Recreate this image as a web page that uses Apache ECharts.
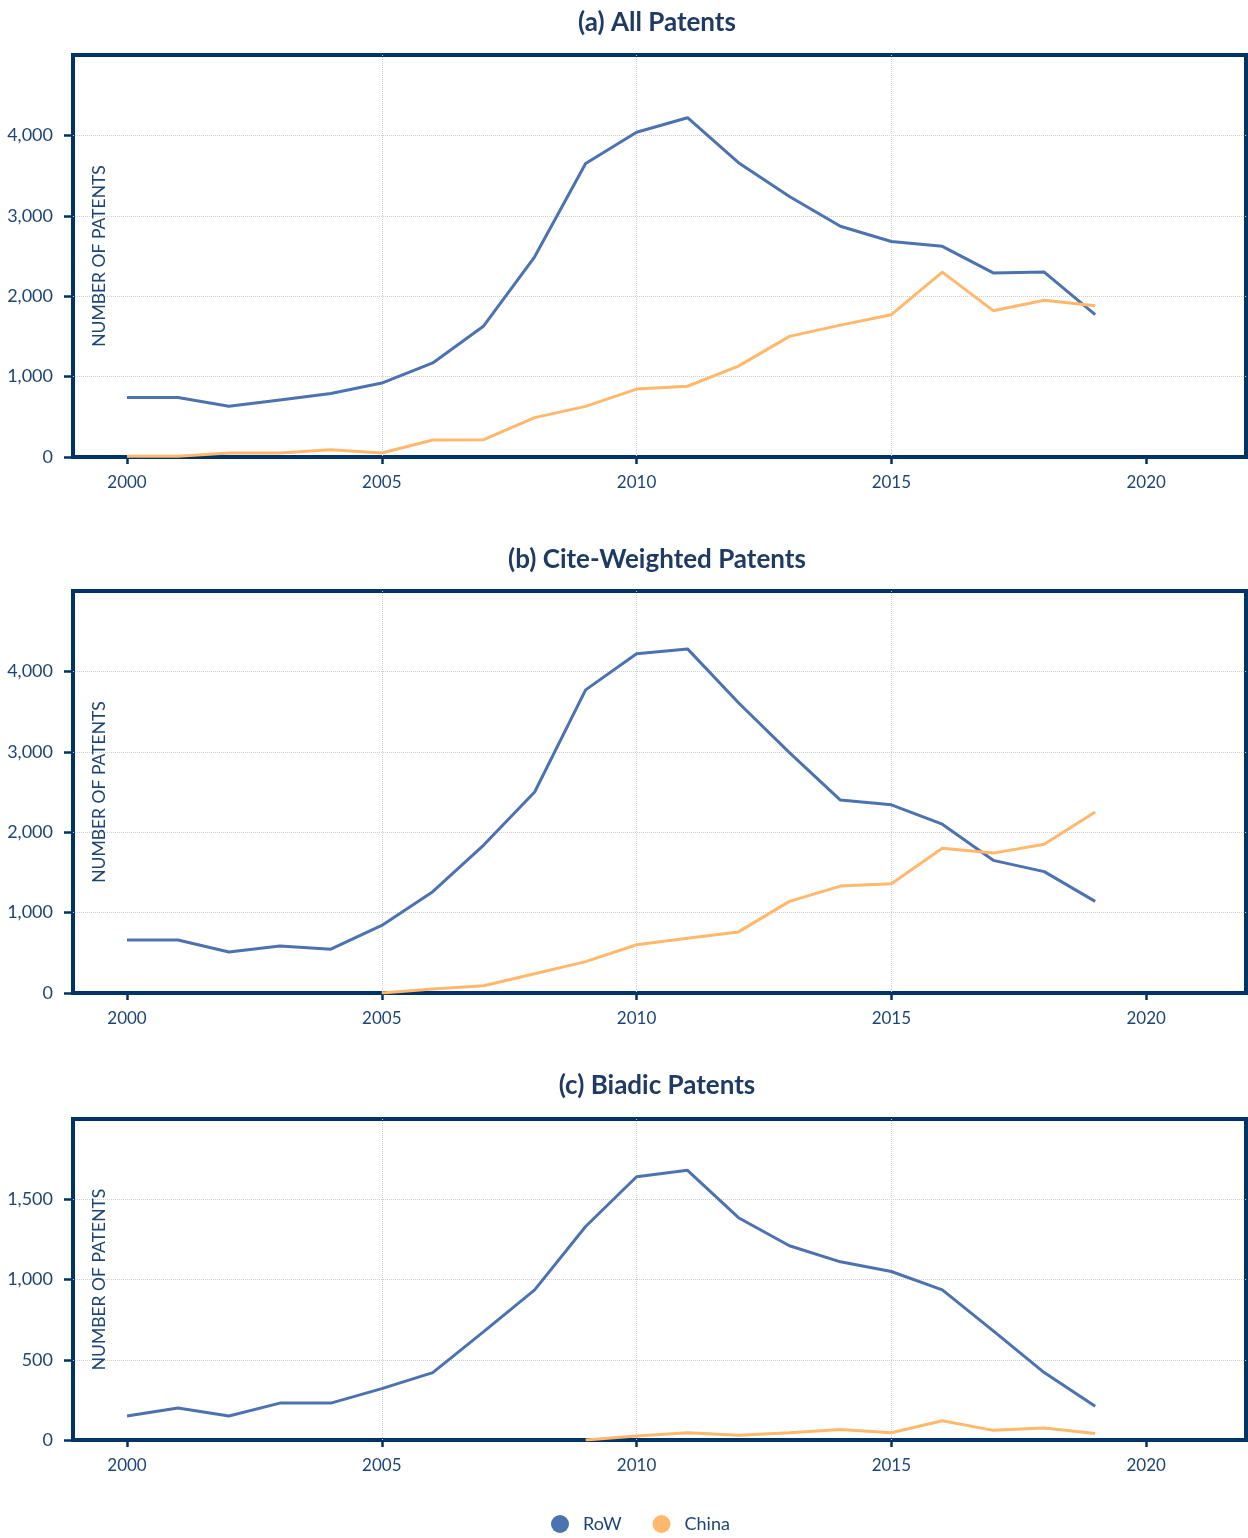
<!DOCTYPE html>
<html>
<head>
<meta charset="utf-8">
<script src="https://cdn.jsdelivr.net/npm/echarts@6/dist/echarts.min.js"></script>
<style>
html,body{margin:0;padding:0;background:#fff;}
#chart{width:1248px;height:1538px;}
</style>
</head>
<body>
<div id="chart"></div>
<script>
const years = [2000,2001,2002,2003,2004,2005,2006,2007,2008,2009,2010,2011,2012,2013,2014,2015,2016,2017,2018,2019];
const panelTitles = ['(a) All Patents','(b) Cite-Weighted Patents','(c) Biadic Patents'];
const seriesNames = ['RoW','China'];
const xTickValues = [2000,2005,2010,2015,2020];

const rowAll   = [740,740,630,710,790,920,1170,1630,2490,3650,4040,4220,3660,3240,2870,2680,2620,2290,2300,1770];
const chinaAll = [10,10,50,50,90,50,212,215,490,630,845,880,1130,1500,1640,1770,2300,1820,1950,1880];

const rowCite   = [660,660,510,585,545,840,1260,1840,2500,3770,4220,4280,3610,2990,2400,2340,2100,1650,1510,1140];
const chinaCite = [null,null,null,null,null,0,50,90,240,390,600,680,760,1140,1330,1360,1800,1740,1850,2250];

const rowBiadic   = [150,200,150,230,230,320,420,675,935,1330,1640,1680,1385,1210,1110,1050,935,680,420,210];
const chinaBiadic = [null,null,null,null,null,null,null,null,null,0,25,45,30,45,65,45,120,60,75,40];

const yMax = [5000,5000,2000];
const yInterval = [1000,1000,500];

const NAVY = '#003366';
const TEXT = '#1d4575';
const COLORS = ['#4c72b0','#ffb86c'];
const FONT = 'Lato, "Noto Sans", sans-serif';

const grids = [
  {left:73, right:2, top:55, height:402},
  {left:73, right:2, top:591, height:402},
  {left:73, right:2, top:1119, height:321}
];
const titleTops = [5, 542, 1068];

function pairs(vals){ return years.map((y,i)=>[y, vals[i]]); }
const panelData = [[rowAll,chinaAll],[rowCite,chinaCite],[rowBiadic,chinaBiadic]];

const chart = echarts.init(document.getElementById('chart'), null, {renderer:'canvas'});
const option = {
  backgroundColor:'#fff',
  color: COLORS,
  textStyle:{fontFamily:FONT},
  title: panelTitles.map((t,i)=>({
    text:t, left:652, textAlign:'center', top:titleTops[i],
    textStyle:{fontSize:26, fontWeight:'bold', color:'#1f3b63', fontFamily:FONT}
  })),
  legend:{
    data:seriesNames, bottom:0, left:546, icon:'circle', itemWidth:18, itemHeight:18, itemGap:31,
    textStyle:{fontSize:18, color:TEXT, fontFamily:FONT, padding:[0,0,0,9]}
  },
  grid: grids.map(g=>Object.assign({show:true, borderColor:NAVY, borderWidth:4, backgroundColor:'transparent'}, g)),
  xAxis: grids.map((g,i)=>({
    type:'value', gridIndex:i, min:1998.94, max:2021.96,
    axisLine:{show:false},
    axisTick:{show:true, length:7, lineStyle:{color:NAVY, width:2.5}, customValues:xTickValues},
    axisLabel:{color:TEXT, fontSize:17, margin:17, fontFamily:FONT, customValues:xTickValues, formatter:v=>String(v)},
    splitLine:{show:true, showMinLine:false, showMaxLine:false, lineStyle:{color:'#d0d0d0', type:'dotted', width:1}}
  })),
  yAxis: grids.map((g,i)=>({
    type:'value', gridIndex:i, min:0, max:yMax[i], interval:yInterval[i],
    name:'NUMBER OF PATENTS', nameLocation:'middle', nameGap:-35,
    nameTextStyle:{color:TEXT, fontSize:17.5, fontFamily:FONT},
    axisLine:{show:false},
    axisTick:{show:true, length:9, lineStyle:{color:NAVY, width:2.5}},
    axisLabel:{color:TEXT, fontSize:18, margin:20, fontFamily:FONT, showMaxLabel:false,
      formatter:v=>v.toLocaleString('en-US')},
    splitLine:{show:true, showMinLine:false, showMaxLine:false, lineStyle:{color:'#d0d0d0', type:'dotted', width:1}}
  })),
  series: []
};
panelData.forEach((pd,i)=>{
  pd.forEach((vals,k)=>{
    option.series.push({
      name:seriesNames[k], type:'line', xAxisIndex:i, yAxisIndex:i,
      data:pairs(vals), showSymbol:false, symbol:'none', connectNulls:false,
      lineStyle:{width:3, color:COLORS[k]}, itemStyle:{color:COLORS[k]}, z:3
    });
  });
});
chart.setOption(option);
</script>
</body>
</html>
